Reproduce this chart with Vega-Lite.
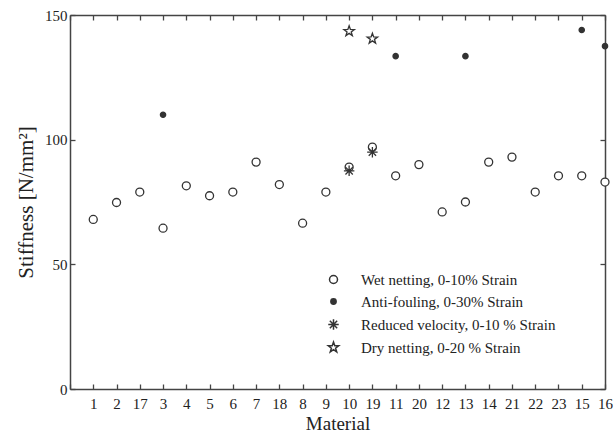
{
  "$schema": "https://vega.github.io/schema/vega-lite/v6.json",
  "width": 535,
  "height": 374,
  "autosize": {"type": "none"},
  "padding": {"left": 70, "top": 15, "right": 9, "bottom": 45},
  "background": "white",
  "config": {
    "view": {"stroke": null},
    "font": "Liberation Serif",
    "axis": {
      "labelFont": "Liberation Serif",
      "titleFont": "Liberation Serif",
      "labelFontSize": 15,
      "titleFontSize": 19,
      "titleFontWeight": "normal",
      "labelColor": "#222",
      "titleColor": "#222",
      "domainColor": "#444",
      "domainWidth": 1.5,
      "tickColor": "#444",
      "tickWidth": 1.3,
      "tickSize": -5,
      "grid": false
    },
    "legend": {
      "labelFont": "Liberation Serif",
      "labelFontSize": 15,
      "labelColor": "#222",
      "labelLimit": 400
    }
  },
  "datasets": {
    "pts": [
      {"material": "1", "series": "Wet netting, 0-10% Strain", "stiffness": 68},
      {"material": "2", "series": "Wet netting, 0-10% Strain", "stiffness": 74.8},
      {"material": "17", "series": "Wet netting, 0-10% Strain", "stiffness": 79},
      {"material": "3", "series": "Wet netting, 0-10% Strain", "stiffness": 64.5},
      {"material": "4", "series": "Wet netting, 0-10% Strain", "stiffness": 81.5},
      {"material": "5", "series": "Wet netting, 0-10% Strain", "stiffness": 77.5},
      {"material": "6", "series": "Wet netting, 0-10% Strain", "stiffness": 79},
      {"material": "7", "series": "Wet netting, 0-10% Strain", "stiffness": 91},
      {"material": "18", "series": "Wet netting, 0-10% Strain", "stiffness": 82},
      {"material": "8", "series": "Wet netting, 0-10% Strain", "stiffness": 66.5},
      {"material": "9", "series": "Wet netting, 0-10% Strain", "stiffness": 79},
      {"material": "10", "series": "Wet netting, 0-10% Strain", "stiffness": 89},
      {"material": "19", "series": "Wet netting, 0-10% Strain", "stiffness": 97},
      {"material": "11", "series": "Wet netting, 0-10% Strain", "stiffness": 85.5},
      {"material": "20", "series": "Wet netting, 0-10% Strain", "stiffness": 90},
      {"material": "12", "series": "Wet netting, 0-10% Strain", "stiffness": 71},
      {"material": "13", "series": "Wet netting, 0-10% Strain", "stiffness": 75},
      {"material": "14", "series": "Wet netting, 0-10% Strain", "stiffness": 91},
      {"material": "21", "series": "Wet netting, 0-10% Strain", "stiffness": 93},
      {"material": "22", "series": "Wet netting, 0-10% Strain", "stiffness": 79},
      {"material": "23", "series": "Wet netting, 0-10% Strain", "stiffness": 85.5},
      {"material": "15", "series": "Wet netting, 0-10% Strain", "stiffness": 85.5},
      {"material": "16", "series": "Wet netting, 0-10% Strain", "stiffness": 83},
      {"material": "3", "series": "Anti-fouling, 0-30% Strain", "stiffness": 110},
      {"material": "11", "series": "Anti-fouling, 0-30% Strain", "stiffness": 133.5},
      {"material": "13", "series": "Anti-fouling, 0-30% Strain", "stiffness": 133.5},
      {"material": "15", "series": "Anti-fouling, 0-30% Strain", "stiffness": 144},
      {"material": "16", "series": "Anti-fouling, 0-30% Strain", "stiffness": 137.5},
      {"material": "10", "series": "Reduced velocity, 0-10 % Strain", "stiffness": 87.5},
      {"material": "19", "series": "Reduced velocity, 0-10 % Strain", "stiffness": 95},
      {"material": "10", "series": "Dry netting, 0-20 % Strain", "stiffness": 143.5},
      {"material": "19", "series": "Dry netting, 0-20 % Strain", "stiffness": 140.5}
    ]
  },
  "data": {"name": "pts"},
  "resolve": {"axis": {"x": "independent", "y": "independent"}},
  "layer": [
    {
      "mark": {"type": "point", "opacity": 0},
      "encoding": {
        "x": {
          "field": "material", "type": "ordinal",
          "scale": {"type": "point", "padding": 0, "domain": [" ", "1", "2", "17", "3", "4", "5", "6", "7", "18", "8", "9", "10", "19", "11", "20", "12", "13", "14", "21", "22", "23", "15", "16"]},
          "axis": {"orient": "top", "labels": false, "title": null}
        },
        "y": {
          "field": "stiffness", "type": "quantitative",
          "scale": {"domain": [0, 150], "nice": false, "zero": true},
          "axis": {"orient": "right", "labels": false, "title": null, "values": [0, 50, 100, 150]}
        }
      }
    },
    {
      "mark": {"type": "point", "opacity": 1, "strokeWidth": 1.3},
      "encoding": {
        "x": {
          "field": "material", "type": "ordinal",
          "axis": {"orient": "bottom", "title": "Material", "labelAngle": 0, "labelPadding": 12, "titlePadding": 3}
        },
        "y": {
          "field": "stiffness", "type": "quantitative",
          "axis": {"orient": "left", "title": "Stiffness [N/mm²]", "titleFontSize": 21, "labelPadding": 8, "values": [0, 50, 100, 150], "titlePadding": 8}
        },
        "shape": {
          "field": "series", "type": "nominal",
          "scale": {
            "domain": ["Wet netting, 0-10% Strain", "Anti-fouling, 0-30% Strain", "Reduced velocity, 0-10 % Strain", "Dry netting, 0-20 % Strain"],
            "range": ["circle", "circle", "M-1,0L1,0M0,-1L0,1M-0.7,-0.7L0.7,0.7M-0.7,0.7L0.7,-0.7", "M0,-1L0.235,-0.324L0.951,-0.309L0.38,0.124L0.588,0.809L0,0.4L-0.588,0.809L-0.38,0.124L-0.951,-0.309L-0.235,-0.324Z"]
          },
          "legend": {"title": null, "orient": "none", "legendX": 256, "legendY": 257, "labelOffset": 20, "rowPadding": 6, "encode": {"symbols": {"update": {"stroke": {"value": "#333"}, "strokeWidth": {"value": 1.2}, "opacity": {"value": 1}}}}}
        },
        "fill": {
          "field": "series", "type": "nominal",
          "scale": {
            "domain": ["Wet netting, 0-10% Strain", "Anti-fouling, 0-30% Strain", "Reduced velocity, 0-10 % Strain", "Dry netting, 0-20 % Strain"],
            "range": ["white", "#333", "transparent", "white"]
          },
          "legend": {"title": null, "orient": "none", "legendX": 256, "legendY": 257, "labelOffset": 20, "rowPadding": 6, "encode": {"symbols": {"update": {"stroke": {"value": "#333"}, "strokeWidth": {"value": 1.2}, "opacity": {"value": 1}}}}}
        },
        "size": {
          "field": "series", "type": "nominal",
          "scale": {
            "type": "ordinal",
            "domain": ["Wet netting, 0-10% Strain", "Anti-fouling, 0-30% Strain", "Reduced velocity, 0-10 % Strain", "Dry netting, 0-20 % Strain"],
            "range": [64, 28, 110, 120]
          },
          "legend": {"title": null, "orient": "none", "legendX": 256, "legendY": 257, "labelOffset": 20, "rowPadding": 6, "encode": {"symbols": {"update": {"stroke": {"value": "#333"}, "strokeWidth": {"value": 1.2}, "opacity": {"value": 1}}}}}
        },
        "stroke": {"value": "#333"}
      }
    }
  ]
}
